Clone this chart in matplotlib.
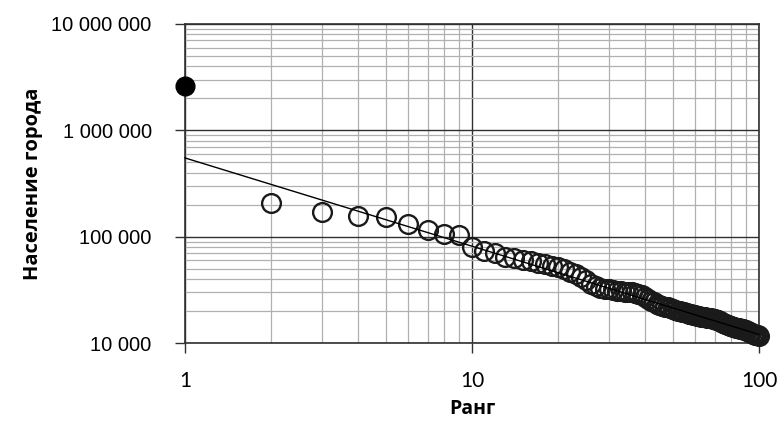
import numpy as np
import matplotlib.pyplot as plt
from matplotlib.ticker import FixedLocator, LogLocator, NullFormatter

# rank 1 city (filled) and the rest (hollow)
top_rank = [1]
top_pop = [2600000]

ranks = list(range(2, 101))
pops = [
	207000, 171000, 156000, 153000, 131000, 115000, 106000, 103000, 80000,
	73000, 70000, 65000, 63000, 60000, 59000, 56000, 55000, 53000, 52000,
	50000, 47000, 45000, 42000, 39000, 36000, 34000, 33000, 32500, 32000,
	31500, 31000, 30800, 30500, 30200, 30000, 29500, 29000, 28000, 27000,
	26000, 25000, 24200, 23500, 23000, 22500, 22000, 21600, 21200, 20800,
	20500, 20200, 20000, 19700, 19400, 19100, 18900, 18600, 18400, 18200,
	18000, 17800, 17600, 17500, 17400, 17300, 17200, 17100, 17000, 16800,
	16600, 16300, 16000, 15700, 15400, 15200, 15000, 14800, 14600, 14400,
	14200, 14000, 13900, 13800, 13700, 13600, 13500, 13400, 13300, 13200,
	13000, 12800, 12600, 12400, 12200, 12100, 12000, 11900, 11800, 11700,
]

# power-law trend  y = a * x^b
trend_a = 550000
trend_b = -0.83

x_ticks = [1, 10, 100]
x_labels = ['1', '10', '100']
y_ticks = [10000, 100000, 1000000, 10000000]
y_labels = ['10 000', '100 000', '1 000 000', '10 000 000']

fig = plt.figure(figsize=(7.78, 4.23), dpi=100)
ax = fig.add_axes([0.2378, 0.1891, 0.7378, 0.7542])
ax.set_xscale('log')
ax.set_yscale('log')
ax.set_xlim(1, 100)
ax.set_ylim(10000, 10000000)

ax.xaxis.set_major_locator(FixedLocator(x_ticks))
ax.yaxis.set_major_locator(FixedLocator(y_ticks))
ax.xaxis.set_minor_locator(LogLocator(base=10, subs=np.arange(2, 10)))
ax.yaxis.set_minor_locator(LogLocator(base=10, subs=np.arange(2, 10)))
ax.xaxis.set_minor_formatter(NullFormatter())
ax.yaxis.set_minor_formatter(NullFormatter())

ax.grid(True, which='minor', color='#b0b0b0', lw=0.9)
ax.grid(True, which='major', color='#303030', lw=1.0)
ax.set_axisbelow(True)

for s in ax.spines.values():
	s.set_color('#303030')
	s.set_linewidth(1.2)

ax.set_xticklabels(x_labels, fontsize=15, family='Lato')
ax.set_yticklabels(y_labels, fontsize=14.5, family='Liberation Sans')
ax.tick_params(axis='both', which='major', direction='out', length=7, width=1.0, color='#303030')
ax.tick_params(axis='x', which='major', pad=13)
ax.tick_params(axis='y', which='major', pad=17)
ax.tick_params(which='minor', length=0)

xs = np.linspace(1, 100, 200)
ax.plot(xs, trend_a * xs ** trend_b, color='black', lw=1.0, zorder=4, clip_on=False)

ax.plot(ranks, pops, 'o', ms=13.5, mfc='none', mec='#1a1a1a', mew=1.7, zorder=3, clip_on=False)
ax.plot(top_rank, top_pop, 'o', ms=13.5, mfc='black', mec='black', zorder=5, clip_on=False)

ax.set_xlabel('Ранг', fontsize=14, fontweight='bold', family='Open Sans', labelpad=6)
ax.set_ylabel('Население города', fontsize=14.5, fontweight='bold', family='Open Sans', labelpad=6)

fig.savefig('out.png', dpi=100)
